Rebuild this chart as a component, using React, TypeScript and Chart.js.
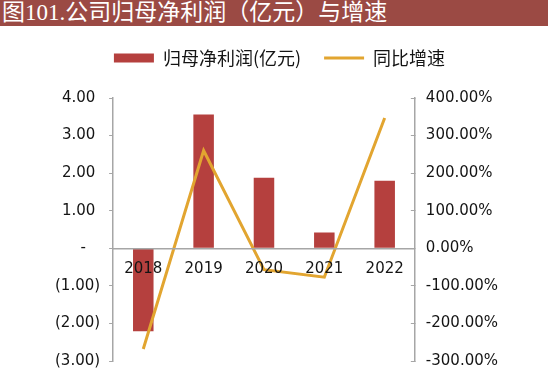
import React, { useEffect, useRef } from 'react';
import { Chart, registerables } from 'chart.js';

Chart.register(...registerables);

const titleText = '图101.公司归母净利润（亿元）与增速';
const years = ['2018', '2019', '2020', '2021', '2022'];
const netProfit = [-2.21, 3.56, 1.88, 0.42, 1.8];
const growthPct = [-268, 260, -57, -77, 347];
const profitLabel = '归母净利润(亿元)';
const growthLabel = '同比增速';
const leftRange = [-3, 4, 1];
const rightRange = [-300, 400, 100];

const BAR_COLOR = '#b5403e';
const LINE_COLOR = '#e2a530';
const BANNER_COLOR = '#9b4a44';
const AXIS_COLOR = '#a6a6a6';
const TEXT_COLOR = '#141414';

const fmtLeft = (v: number) =>
  v === 0 ? '-   ' : v < 0 ? `(${Math.abs(v).toFixed(2)})` : `${v.toFixed(2)} `;
const fmtRight = (v: number) => `${v.toFixed(2)}%`;

const noVerticalPadding = (s: any) => {
  s.paddingTop = 0;
  s.paddingBottom = 0;
};

const legendSpacer = {
  id: 'legendSpacer',
  beforeLayout(chart: any) {
    const lg = chart.legend;
    if (lg && !lg.__spaced) {
      const orig = lg.fit;
      lg.fit = function () {
        orig.call(this);
        this.height += 21;
      };
      lg.__spaced = true;
    }
  },
};

export default function App() {
  const ref = useRef<HTMLCanvasElement | null>(null);

  useEffect(() => {
    document.body.style.margin = '0';
    if (!ref.current) return;
    const chart = new Chart(ref.current, {
      type: 'bar',
      data: {
        labels: years,
        datasets: [
          {
            type: 'bar',
            label: profitLabel,
            data: netProfit,
            backgroundColor: BAR_COLOR,
            borderWidth: 0,
            barPercentage: 0.34,
            categoryPercentage: 1,
            yAxisID: 'y',
            order: 2,
          } as any,
          {
            type: 'line',
            label: growthLabel,
            data: growthPct,
            borderColor: LINE_COLOR,
            backgroundColor: LINE_COLOR,
            borderWidth: 3,
            pointRadius: 0,
            tension: 0,
            yAxisID: 'y1',
            order: 1,
          } as any,
        ],
      },
      options: {
        responsive: false,
        animation: false,
        layout: { padding: { top: 0, left: 46, right: 37, bottom: 16 } },
        plugins: {
          tooltip: { enabled: false },
          legend: {
            position: 'top',
            labels: {
              usePointStyle: true,
              pointStyleWidth: 40,
              boxHeight: 9,
              padding: 23,
              color: TEXT_COLOR,
              font: { family: '"Noto Sans CJK SC"', size: 18 },
              generateLabels: (c: any) =>
                c.data.datasets.map((ds: any, i: number) => ({
                  text: ds.label,
                  fillStyle: i === 0 ? BAR_COLOR : LINE_COLOR,
                  strokeStyle: i === 0 ? BAR_COLOR : LINE_COLOR,
                  lineWidth: i === 0 ? 0 : 3,
                  pointStyle: i === 0 ? 'rect' : 'line',
                  hidden: false,
                  datasetIndex: i,
                  fontColor: TEXT_COLOR,
                })),
            },
          },
        },
        scales: {
          x: {
            position: { y: 0 } as any,
            afterFit: (s: any) => {
              s.height = 0;
            },
            grid: { display: false, drawTicks: false },
            border: { display: true, color: AXIS_COLOR, width: 1.5, z: 1 },
            ticks: {
              z: 1,
              color: TEXT_COLOR,
              padding: 11.5,
              font: { family: '"DejaVu Sans"', size: 15 },
              maxRotation: 0,
            },
          },
          y: {
            position: 'left',
            min: leftRange[0],
            max: leftRange[1],
            afterFit: noVerticalPadding,
            grid: { drawOnChartArea: false, drawTicks: true, tickLength: 4, color: AXIS_COLOR },
            border: { display: true, color: AXIS_COLOR, width: 1.5 },
            ticks: {
              stepSize: leftRange[2],
              color: TEXT_COLOR,
              padding: 9,
              font: { family: '"DejaVu Sans"', size: 15 },
              callback: (v: any) => fmtLeft(Number(v)),
            },
          },
          y1: {
            position: 'right',
            min: rightRange[0],
            max: rightRange[1],
            afterFit: noVerticalPadding,
            grid: { drawOnChartArea: false, drawTicks: true, tickLength: -4, color: AXIS_COLOR },
            border: { display: true, color: AXIS_COLOR, width: 1.5 },
            ticks: {
              stepSize: rightRange[2],
              color: TEXT_COLOR,
              padding: 15,
              font: { family: '"DejaVu Sans"', size: 15 },
              callback: (v: any) => fmtRight(Number(v)),
            },
          },
        },
      },
      plugins: [legendSpacer],
    });
    return () => chart.destroy();
  }, []);

  return (
    <div style={{ width: 550, height: 377, background: '#fff', overflow: 'hidden' }}>
      <div
        style={{
          width: 548,
          height: 26,
          background: BANNER_COLOR,
          color: '#fff',
          fontFamily: '"Liberation Serif", "Noto Sans CJK SC", serif',
          fontSize: 23,
          lineHeight: '26px',
          paddingLeft: 2,
          boxSizing: 'border-box',
          whiteSpace: 'nowrap',
          overflow: 'hidden',
        }}
      >
        {titleText}
      </div>
      <canvas ref={ref} width={550} height={351} style={{ display: 'block' }} />
    </div>
  );
}
